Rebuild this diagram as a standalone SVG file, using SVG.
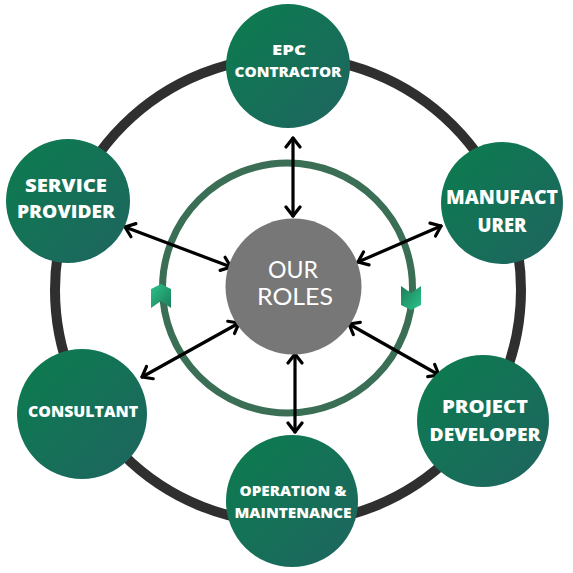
<svg xmlns="http://www.w3.org/2000/svg" width="573" height="573" viewBox="0 0 573 573">
  <defs>
    <linearGradient id="nodeGrad" x1="0" y1="0" x2="1" y2="1">
      <stop offset="0" stop-color="#0b7d4e"/>
      <stop offset="1" stop-color="#1f6460"/>
    </linearGradient>
    <linearGradient id="chevGrad" x1="0" y1="0" x2="1" y2="1">
      <stop offset="0" stop-color="#2cc48a"/>
      <stop offset="1" stop-color="#1b7d5a"/>
    </linearGradient>
    <marker id="arr" viewBox="-12 -10 14 20" markerWidth="14" markerHeight="20" refX="0" refY="0" orient="auto-start-reverse" markerUnits="userSpaceOnUse">
      <path d="M -9,-7 L 0,0 L -9,7" fill="none" stroke="#000" stroke-width="3.2" stroke-linecap="round" stroke-linejoin="round"/>
    </marker>
    <path id="chevUp" d="M -10,-7 L 0,-12 L 10,-7 L 10,12 L 0,5 L -10,12 Z"/>
  </defs>
  <style>
    .node { fill: url(#nodeGrad); }
    .lbl { font-family: "Open Sans", "Liberation Sans", sans-serif; font-weight: 800; fill: #ffffff; text-anchor: middle; }
    .conn { stroke: #000; stroke-width: 3.2; fill: none; stroke-linecap: round; marker-start: url(#arr); marker-end: url(#arr); }
    .ctr { font-family: Lato, "Open Sans", sans-serif; font-weight: 400; font-size: 23px; fill: #ffffff; text-anchor: middle; }
  </style>
  <rect width="573" height="573" fill="#ffffff"/>

  <g id="rings">
    <circle cx="288" cy="290" r="233" fill="none" stroke="#2f2f2f" stroke-width="10"/>
    <circle cx="287.5" cy="288" r="125" fill="none" stroke="#3a6e55" stroke-width="7"/>
    <use href="#chevUp" transform="translate(161,296)" fill="url(#chevGrad)"/>
    <use href="#chevUp" transform="translate(411,298) rotate(180)" fill="url(#chevGrad)"/>
  </g>

  <g id="connectors">
    <line class="conn" x1="293" y1="138" x2="293" y2="216"/>
    <line class="conn" x1="125" y1="227" x2="231" y2="267"/>
    <line class="conn" x1="441" y1="226" x2="358" y2="262"/>
    <line class="conn" x1="142" y1="377" x2="239" y2="323"/>
    <line class="conn" x1="349" y1="324" x2="439" y2="375"/>
    <line class="conn" x1="295" y1="354" x2="295" y2="432"/>
  </g>

  <g id="center">
    <circle cx="293.5" cy="286.5" r="68" fill="#777777"/>
    <text class="ctr" x="293" y="278" textLength="50" lengthAdjust="spacingAndGlyphs">OUR</text>
    <text class="ctr" x="295" y="305" textLength="76" lengthAdjust="spacingAndGlyphs">ROLES</text>
  </g>

  <g id="epc">
    <circle class="node" cx="288" cy="66" r="62"/>
    <text class="lbl" x="289" y="55" font-size="14" textLength="34" lengthAdjust="spacingAndGlyphs">EPC</text>
    <text class="lbl" x="288" y="77" font-size="14" textLength="107" lengthAdjust="spacingAndGlyphs">CONTRACTOR</text>
  </g>

  <g id="manufacturer">
    <circle class="node" cx="502" cy="203" r="61"/>
    <text class="lbl" x="502" y="204" font-size="19" textLength="112" lengthAdjust="spacingAndGlyphs">MANUFACT</text>
    <text class="lbl" x="502" y="232" font-size="19" textLength="49" lengthAdjust="spacingAndGlyphs">URER</text>
  </g>

  <g id="service-provider">
    <circle class="node" cx="68" cy="201" r="62"/>
    <text class="lbl" x="66" y="192" font-size="17" textLength="82" lengthAdjust="spacingAndGlyphs">SERVICE</text>
    <text class="lbl" x="66" y="218" font-size="17" textLength="98" lengthAdjust="spacingAndGlyphs">PROVIDER</text>
  </g>

  <g id="consultant">
    <circle class="node" cx="82" cy="414" r="65"/>
    <text class="lbl" x="83" y="417" font-size="15" textLength="110" lengthAdjust="spacingAndGlyphs">CONSULTANT</text>
  </g>

  <g id="project-developer">
    <circle class="node" cx="483" cy="421" r="66"/>
    <text class="lbl" x="485" y="413" font-size="17" textLength="86" lengthAdjust="spacingAndGlyphs">PROJECT</text>
    <text class="lbl" x="485" y="441" font-size="17" textLength="111" lengthAdjust="spacingAndGlyphs">DEVELOPER</text>
  </g>

  <g id="operation-maintenance">
    <circle class="node" cx="292" cy="501" r="66"/>
    <text class="lbl" x="293" y="496" font-size="14" textLength="107" lengthAdjust="spacingAndGlyphs">OPERATION &amp;</text>
    <text class="lbl" x="293" y="518" font-size="14" textLength="117" lengthAdjust="spacingAndGlyphs">MAINTENANCE</text>
  </g>
</svg>
